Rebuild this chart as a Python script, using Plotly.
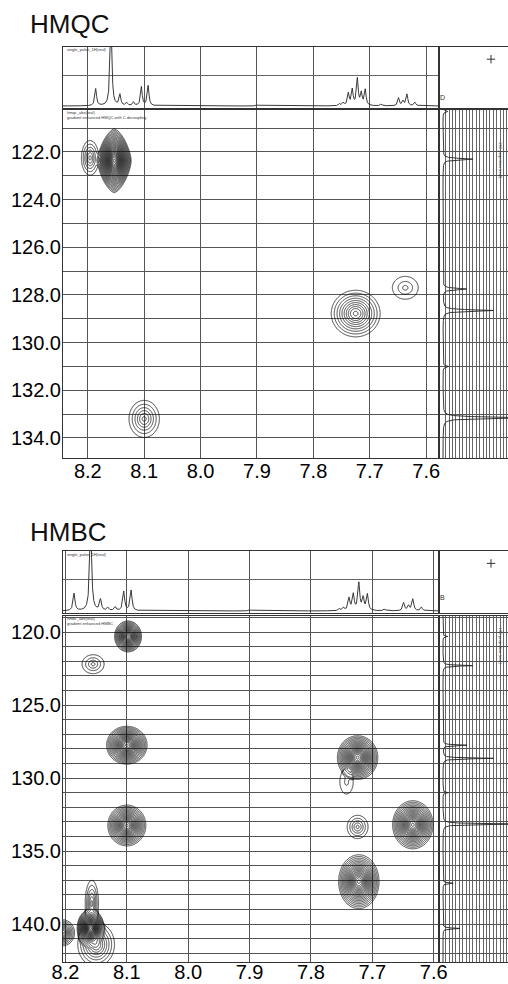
import numpy as np
import plotly.graph_objects as go

W, H = 508, 984

# ---------------- data ----------------
# 1H 1D spectrum (top traces): shift (ppm), relative height
H1_SHIFTS = [8.186, 8.159, 8.143, 8.131, 8.119, 8.105, 8.093, 7.900,
             7.754, 7.747, 7.738, 7.731, 7.722, 7.715, 7.708, 7.680,
             7.649, 7.641, 7.634, 7.620]
H1_HEIGHTS = [0.28, 1.50, 0.18, 0.05, 0.06, 0.31, 0.33, 0.02,
              0.03, 0.05, 0.20, 0.26, 0.44, 0.20, 0.26, 0.03,
              0.13, 0.08, 0.19, 0.06]

# 13C 1D spectrum (right traces): shift (ppm), relative height
C13_SHIFTS = [120.3, 122.3, 127.75, 128.65, 131.0, 133.15, 137.2, 140.3]
C13_HEIGHTS = [0.07, 0.44, 0.35, 0.74, 0.08, 1.20, 0.15, 0.25]

# HMQC cross peaks: 1H shift, 13C shift, half-width 1H, half-width 13C, contour levels, shape
HMQC_H = [8.153, 8.196, 8.100, 7.725, 7.637]
HMQC_C = [122.37, 122.25, 133.20, 128.78, 127.70]
HMQC_WH = [0.030, 0.0155, 0.027, 0.0435, 0.023]
HMQC_WC = [1.34, 0.73, 0.78, 0.98, 0.48]
HMQC_LEV = [26, 5, 5, 9, 2]
HMQC_SHAPE = [1.5, 2.0, 2.0, 2.0, 2.0]

# HMBC cross peaks
HMBC_H = [8.098, 8.155, 8.100, 7.724, 7.742, 8.100, 7.724, 7.634,
          7.722, 8.159, 8.157, 8.150, 8.205]
HMBC_C = [120.30, 122.20, 127.75, 128.60, 130.25, 133.25, 133.35, 133.20,
          137.10, 140.30, 138.60, 141.40, 140.60]
HMBC_WH = [0.022, 0.018, 0.033, 0.033, 0.011, 0.031, 0.017, 0.033,
           0.033, 0.022, 0.011, 0.030, 0.020]
HMBC_WC = [1.06, 0.65, 1.30, 1.50, 0.85, 1.40, 0.80, 1.65,
           1.85, 1.30, 1.60, 1.50, 0.90]
HMBC_LEV = [17, 3, 18, 18, 1, 17, 4, 18, 18, 24, 5, 7, 10]
HMBC_SHAPE = [2.0] * 13

X_TICKS = [8.2, 8.1, 8.0, 7.9, 7.8, 7.7, 7.6]
X_TICKTEXT = ["8.2", "8.1", "8.0", "7.9", "7.8", "7.7", "7.6"]
HMQC_Y_TICKS = [122, 124, 126, 128, 130, 132, 134]
HMQC_Y_TICKTEXT = ["122.0", "124.0", "126.0", "128.0", "130.0", "132.0", "134.0"]
HMBC_Y_TICKS = [120, 125, 130, 135, 140]
HMBC_Y_TICKTEXT = ["120.0", "125.0", "130.0", "135.0", "140.0"]

HMQC_XRANGE = [8.244, 7.579]
HMQC_YRANGE = [134.84, 120.24]
HMBC_XRANGE = [8.204, 7.593]
HMBC_YRANGE = [142.6, 118.9]

# ---------------- helpers ----------------
STEP = 0.12
CONC = 8.0
FONT = "Liberation Sans, Arial, sans-serif"
GRID = "#555555"
LINE = "#333333"


def dx(a, b):
    return [a / W, b / W]


def dy(top, bottom):
    return [1 - bottom / H, 1 - top / H]


def clusters(hs, cs, wh, wc, xr, yr, pad=1.12):
    boxes = [[cx - pad * hx, cx + pad * hx, cy - pad * hy, cy + pad * hy, [i]]
             for i, (cx, cy, hx, hy) in enumerate(zip(hs, cs, wh, wc))]
    merged = True
    while merged:
        merged = False
        for i in range(len(boxes)):
            for j in range(i + 1, len(boxes)):
                a, b = boxes[i], boxes[j]
                if a[0] < b[1] and b[0] < a[1] and a[2] < b[3] and b[2] < a[3]:
                    boxes[i] = [min(a[0], b[0]), max(a[1], b[1]), min(a[2], b[2]),
                                max(a[3], b[3]), a[4] + b[4]]
                    boxes.pop(j)
                    merged = True
                    break
            if merged:
                break
    out = []
    for b in boxes:
        x0, x1 = max(b[0], min(xr)), min(b[1], max(xr))
        y0, y1 = max(b[2], min(yr)), min(b[3], max(yr))
        out.append((x0, x1, y0, y1, b[4]))
    return out


def surface(box, hs, cs, wh, wc, lev, shape, n=240):
    x0, x1, y0, y1, idx = box
    xg = np.linspace(x0, x1, n)
    yg = np.linspace(y0, y1, n)
    X, Y = np.meshgrid(xg, yg)
    z = np.full(X.shape, 1e-9)
    for i in idx:
        cx, cy, hx, hy, m, q = hs[i], cs[i], wh[i], wc[i], lev[i], shape[i]
        rho = (np.abs((X - cx) / hx) ** q + np.abs((Y - cy) / hy) ** q) ** (1 / q)
        f = 1 - np.log(1 + CONC * rho ** 2) / np.log(1 + CONC)
        e = (m + 0.3) * STEP * f
        e = np.where(rho > 1, -12 * (rho - 1), e)
        z += 10 ** e
    return xg.astype(np.float32), yg.astype(np.float32), np.log10(z).astype(np.float32)


def spec1d(xr, shifts, heights, gam, base, n=5000):
    xs = np.linspace(min(xr), max(xr), n)
    ys = np.full(xs.shape, base)
    for c, h in zip(shifts, heights):
        ys += h / (1 + ((xs - c) / gam) ** 2)
    return xs, ys


fig = go.Figure()
annotations = []
layout = {}


def build_panel(idx0, xr, yr, hs, cs, wh, wc, lev, shape, ytv, ytt,
                y_main, y_top, title, title_y, tiny_main, glyph, xstand):
    ax = [str(idx0 + i) if idx0 + i > 1 else "" for i in range(4)]
    xm, ym = "x" + ax[0], "y" + ax[0]
    xt, yt = "x" + ax[1], "y" + ax[1]
    xrr, yrr = "x" + ax[2], "y" + ax[2]
    xc, yc = "x" + ax[3], "y" + ax[3]

    # contour map, one trace per group of overlapping cross peaks
    for box in clusters(hs, cs, wh, wc, xr, yr):
        xg, yg, zl = surface(box, hs, cs, wh, wc, lev, shape)
        fig.add_trace(go.Contour(
            x=xg, y=yg, z=zl, xaxis=xm, yaxis=ym, autocontour=False,
            contours=dict(coloring="none", start=0.0, end=float(zl.max()), size=STEP),
            line=dict(color="#111111", width=0.8, smoothing=1.0), showscale=False,
            hoverinfo="skip"))

    # top 1H trace
    xs, ys = spec1d(xr, H1_SHIFTS, H1_HEIGHTS, 0.0018, 0.033)
    fig.add_trace(go.Scatter(x=xs, y=ys, mode="lines", xaxis=xt, yaxis=yt,
                             line=dict(color="#222", width=0.9), hoverinfo="skip"))

    # right 13C trace
    cy_s = np.linspace(min(yr), max(yr), 6000)
    cx_s = np.full(cy_s.shape, 0.044)
    for c, h in zip(C13_SHIFTS, C13_HEIGHTS):
        cx_s += h / (1 + ((cy_s - c) / 0.035) ** 2)
    fig.add_trace(go.Scatter(x=cx_s, y=cy_s, mode="lines", xaxis=xrr, yaxis=yrr,
                             line=dict(color="#222", width=0.9), hoverinfo="skip"))

    # corner mark
    fig.add_trace(go.Scatter(x=[0.75], y=[0.8], mode="markers", xaxis=xc, yaxis=yc,
                             marker=dict(size=6, symbol="cross-thin-open", color="#333",
                                         line=dict(color="#333", width=1)),
                             hoverinfo="skip"))

    ygrid = list(range(int(np.ceil(min(yr))), int(np.floor(max(yr))) + 1))
    ytext = [ytt[ytv.index(v)] if v in ytv else "" for v in ygrid]

    def key(prefix, a):
        return prefix + "axis" + a

    common = dict(automargin=False, zeroline=False, ticks="", ticklen=0)
    layout[key("x", ax[0])] = dict(
        domain=dx(63, 438), range=xr, anchor=ym, tickvals=X_TICKS, ticktext=X_TICKTEXT,
        showgrid=True, gridcolor=GRID, gridwidth=0.9, showline=True, linecolor=LINE,
        linewidth=1, mirror=True, ticklabelstandoff=xstand,
        tickfont=dict(family=FONT, size=20, color="black"), **common)
    layout[key("y", ax[0])] = dict(
        domain=dy(*y_main), range=yr, anchor=xm, tickvals=ygrid, ticktext=ytext,
        showgrid=True, gridcolor=GRID, gridwidth=0.9, showline=True, linecolor=LINE,
        linewidth=1, mirror=True, ticklabelstandoff=-3,
        tickfont=dict(family=FONT, size=20, color="black"), **common)
    layout[key("x", ax[1])] = dict(
        domain=dx(63, 438), range=xr, anchor=yt, tickvals=X_TICKS, showticklabels=False,
        showgrid=True, gridcolor=GRID, gridwidth=0.9, showline=True, linecolor=LINE,
        linewidth=1.2, mirror=True, **common)
    layout[key("y", ax[1])] = dict(
        domain=dy(*y_top), range=[0, 1], anchor=xt, tickvals=[0.54], showticklabels=False,
        showgrid=True, gridcolor="#666", gridwidth=0.8, showline=True, linecolor=LINE,
        linewidth=1, mirror=True, **common)
    layout[key("x", ax[2])] = dict(
        domain=dx(440, 508), range=[0, 1], anchor=yrr,
        tickvals=list(np.arange(0.085, 1.0, 0.05)), showticklabels=False,
        showgrid=True, gridcolor="#666", gridwidth=0.6, showline=True, linecolor=LINE,
        linewidth=1, mirror=True, **common)
    layout[key("y", ax[2])] = dict(
        domain=dy(*y_main), range=yr, anchor=xrr, tickvals=ygrid, showticklabels=False,
        showgrid=True, gridcolor=GRID, gridwidth=0.9, showline=True, linecolor=LINE,
        linewidth=1, mirror=False, **common)
    layout[key("x", ax[3])] = dict(
        domain=dx(440, 508), range=[0, 1], anchor=yc, showticklabels=False,
        showgrid=False, showline=True, linecolor=LINE, linewidth=1, mirror=True, **common)
    layout[key("y", ax[3])] = dict(
        domain=dy(*y_top), range=[0, 1], anchor=xc, showticklabels=False,
        showgrid=False, showline=True, linecolor=LINE, linewidth=1, mirror=False, **common)

    annotations.append(dict(text=title, x=28 / W, y=1 - title_y / H, xref="paper", yref="paper",
                            xanchor="left", yanchor="middle", showarrow=False,
                            font=dict(family=FONT, size=26, color="#111")))
    annotations.append(dict(text="single_pulse_1H(real)", x=65 / W, y=1 - (y_top[0] + 3) / H,
                            xref="paper", yref="paper", xanchor="left", yanchor="middle",
                            showarrow=False, font=dict(family=FONT, size=4, color="#333")))
    annotations.append(dict(text=tiny_main, x=65 / W, y=1 - (y_main[0] + 5) / H,
                            xref="paper", yref="paper", xanchor="left", yanchor="middle",
                            showarrow=False, align="left",
                            font=dict(family=FONT, size=4, color="#333")))
    annotations.append(dict(text=glyph, x=447 / W, y=1 - (y_top[1] - 16) / H, xref="paper",
                            yref="paper", showarrow=False,
                            font=dict(family=FONT, size=7, color="#333")))
    annotations.append(dict(text="13C projection (real)", x=505 / W,
                            y=1 - (y_main[0] + 30) / H, xref="paper", yref="paper",
                            showarrow=False, textangle=90,
                            font=dict(family=FONT, size=4, color="#333")))


build_panel(1, HMQC_XRANGE, HMQC_YRANGE, HMQC_H, HMQC_C, HMQC_WH, HMQC_WC, HMQC_LEV,
            HMQC_SHAPE, HMQC_Y_TICKS, HMQC_Y_TICKTEXT, (110, 458), (47, 108), "HMQC", 24,
            "hmqc_abs(real)<br>gradient enhanced HMQC with C decoupling", "D", -5)
build_panel(5, HMBC_XRANGE, HMBC_YRANGE, HMBC_H, HMBC_C, HMBC_WH, HMBC_WC, HMBC_LEV,
            HMBC_SHAPE, HMBC_Y_TICKS, HMBC_Y_TICKTEXT, (616, 962), (551, 613), "HMBC", 532,
            "hmbc_abs(real)<br>gradient enhanced HMBC", "B", -8)

fig.update_layout(template="none", width=W, height=H, margin=dict(l=0, r=0, t=0, b=0),
                  paper_bgcolor="white", plot_bgcolor="white", showlegend=False,
                  annotations=annotations, **layout)
fig.write_html("out.html", config={"responsive": False, "displayModeBar": False},
               post_script="document.body.style.margin='0';document.body.style.overflow='hidden';")
